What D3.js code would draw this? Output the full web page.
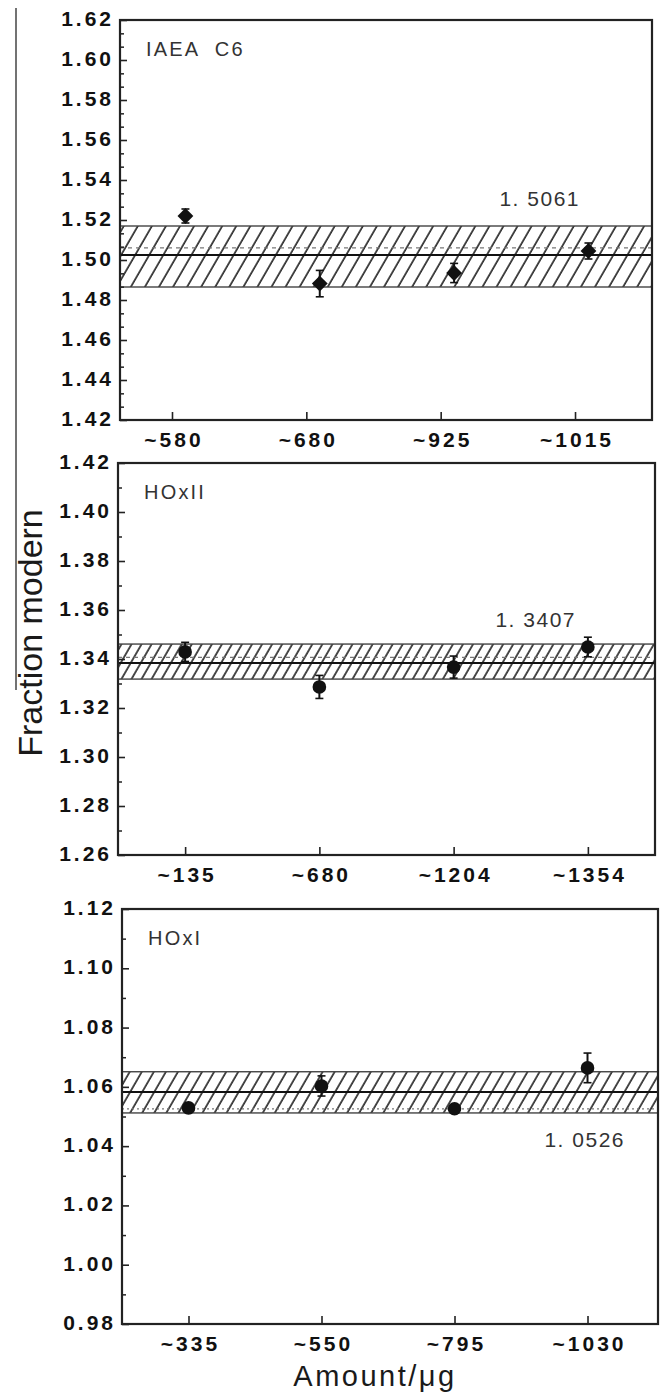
<!DOCTYPE html>
<html>
<head>
<meta charset="utf-8">
<script src="https://cdn.jsdelivr.net/npm/d3@7"></script>
<style>
  body { margin: 0; background: #fff; }
  text { font-family: "Liberation Sans", Arial, sans-serif; fill: #1a1a1a; }
  .tick text { font-weight: bold; font-size: 21px; letter-spacing: 3px; fill: #111; }
</style>
</head>
<body>
<div id="chart"></div>
<script>
// IAEA C6 panel
const c6Labels = ["~580", "~680", "~925", "~1015"];
const c6Values = [1.522, 1.4882, 1.4935, 1.5045];
const c6Errors = [0.0035, 0.0066, 0.0048, 0.004];
const c6Band = [1.4865, 1.517];
const c6Mean = 1.5025;
const c6Ref = 1.5061;
const c6Ticks = [1.42, 1.44, 1.46, 1.48, 1.50, 1.52, 1.54, 1.56, 1.58, 1.60, 1.62];

// HOxII panel
const hox2Labels = ["~135", "~680", "~1204", "~1354"];
const hox2Values = [1.3429, 1.3286, 1.3367, 1.3449];
const hox2Errors = [0.0039, 0.0047, 0.0045, 0.004];
const hox2Band = [1.3318, 1.3461];
const hox2Mean = 1.3384;
const hox2Ref = 1.3407;
const hox2Ticks = [1.26, 1.28, 1.30, 1.32, 1.34, 1.36, 1.38, 1.40, 1.42];

// HOxI panel
const hox1Labels = ["~335", "~550", "~795", "~1030"];
const hox1Values = [1.0529, 1.0603, 1.0526, 1.0664];
const hox1Errors = [0.0015, 0.0034, 0.0008, 0.005];
const hox1Band = [1.0512, 1.0651];
const hox1Mean = 1.0583;
const hox1Ref = 1.0526;
const hox1Ticks = [0.98, 1.00, 1.02, 1.04, 1.06, 1.08, 1.10, 1.12];

const width = 660, height = 1393;

let svg = d3.select("#chart").append("svg")
    .attr("width", width)
    .attr("height", height);

let defs = svg.append("defs");

// the panels, built from the arrays above
let panels = [
  {id: "c6", name: "IAEA  C6", labels: c6Labels, values: c6Values, errors: c6Errors,
   band: c6Band, mean: c6Mean, ref: c6Ref, ticks: c6Ticks, minorPer: 3,
   left: 120, right: 652, top: 20, bottom: 420, xDomain: [0.613, 4.573], shift: 0.1,
   marker: "diamond", hatch: 14, refDash: "4,4", refLabel: "1. 5061", labelX: 580, labelDy: -42},
  {id: "hox2", name: "HOxII", labels: hox2Labels, values: hox2Values, errors: hox2Errors,
   band: hox2Band, mean: hox2Mean, ref: hox2Ref, ticks: hox2Ticks, minorPer: 2,
   left: 118, right: 655, top: 463, bottom: 855, xDomain: [0.5, 4.5], shift: 0,
   marker: "circle", hatch: 10, refDash: "4,4", refLabel: "1. 3407", labelX: 576, labelDy: -30},
  {id: "hox1", name: "HOxI", labels: hox1Labels, values: hox1Values, errors: hox1Errors,
   band: hox1Band, mean: hox1Mean, ref: hox1Ref, ticks: hox1Ticks, minorPer: 2,
   left: 122, right: 658, top: 909, bottom: 1324, xDomain: [0.5, 4.53], shift: 0,
   marker: "circle", hatch: 12, refDash: "2,3", refLabel: "1. 0526", labelX: 625, labelDy: 38}
];

panels.forEach(drawPanel);

// stray scan line on the left edge
svg.append("line")
    .attr("x1", 16).attr("x2", 16)
    .attr("y1", 8).attr("y2", 690)
    .style("stroke", "#444")
    .style("stroke-width", 1.5);

// axis titles
svg.append("text")
    .attr("transform", "translate(42,633) rotate(-90)")
    .style("text-anchor", "middle")
    .style("font-size", "34px")
    .text("Fraction modern");

svg.append("text")
    .attr("x", 375)
    .attr("y", 1386)
    .style("text-anchor", "middle")
    .style("font-size", "29px")
    .style("letter-spacing", "2.5px")
    .text("Amount/μg");

function drawPanel(p) {
    // draws one of the three stacked panels

    let x = d3.scaleLinear().domain(p.xDomain).range([p.left, p.right]);
    let y = d3.scaleLinear().domain([p.ticks[0], p.ticks[p.ticks.length - 1]]).range([p.bottom, p.top]);

    // hatch pattern for the uncertainty band
    defs.append("pattern")
        .attr("id", "hatch-" + p.id)
        .attr("patternUnits", "userSpaceOnUse")
        .attr("width", p.hatch * 0.87)
        .attr("height", p.hatch * 0.87)
        .attr("patternTransform", "rotate(30)")
      .append("line")
        .attr("x1", 1).attr("x2", 1)
        .attr("y1", 0).attr("y2", p.hatch * 0.87)
        .style("stroke", "#000")
        .style("stroke-width", 1.4);

    let g = svg.append("g").attr("class", "panel");

    g.append("rect")
        .attr("x", p.left)
        .attr("width", p.right - p.left)
        .attr("y", y(p.band[1]))
        .attr("height", y(p.band[0]) - y(p.band[1]))
        .style("fill", "url(#hatch-" + p.id + ")")
        .style("stroke", "#444")
        .style("stroke-width", 1.4);

    // reference value (dashed) and mean (solid)
    g.append("line")
        .attr("x1", p.left).attr("x2", p.right)
        .attr("y1", y(p.ref)).attr("y2", y(p.ref))
        .style("stroke", "#777")
        .style("stroke-width", 1.2)
        .style("stroke-dasharray", p.refDash);

    g.append("line")
        .attr("x1", p.left).attr("x2", p.right)
        .attr("y1", y(p.mean)).attr("y2", y(p.mean))
        .style("stroke", "#111")
        .style("stroke-width", 2);

    g.append("text")
        .attr("x", p.labelX)
        .attr("y", y(p.ref) + p.labelDy)
        .style("text-anchor", "end")
        .style("font-size", "21px")
        .style("letter-spacing", "1.5px")
        .style("fill", "#333")
        .text(p.refLabel);

    g.append("text")
        .attr("x", p.left + 26)
        .attr("y", p.top + 36)
        .style("font-size", "20px")
        .style("letter-spacing", "2.2px")
        .style("white-space", "pre")
        .style("fill", "#333")
        .text(p.name);

    // minor ticks on the y axis
    let step = p.ticks[1] - p.ticks[0];
    let minor = [];
    for (let i = 0; i < p.ticks.length - 1; i++) {
        for (let k = 1; k < p.minorPer; k++) {
            minor.push(p.ticks[i] + step * k / p.minorPer);
        }
    }
    g.append("g")
        .attr("transform", "translate(" + p.left + ",0)")
        .call(d3.axisLeft(y).tickValues(minor).tickSize(-4).tickFormat(""))
        .call(s => s.select(".domain").remove())
        .selectAll("line").style("stroke", "#222").style("stroke-width", 1.5);

    let yAxis = g.append("g")
        .attr("transform", "translate(" + p.left + ",0)")
        .call(d3.axisLeft(y).tickValues(p.ticks).tickSize(-7).tickPadding(6)
            .tickFormat(d3.format(".2f")));
    yAxis.select(".domain").remove();
    yAxis.selectAll("line").style("stroke", "#222").style("stroke-width", 1.6);
    yAxis.selectAll("text").attr("dy", "0.26em");

    let xAxis = g.append("g")
        .attr("transform", "translate(0," + p.bottom + ")")
        .call(d3.axisBottom(x).tickValues([1, 2, 3, 4]).tickSize(-8).tickPadding(12)
            .tickFormat(function(d){ return p.labels[d - 1]; }));
    xAxis.select(".domain").remove();
    xAxis.selectAll("line").style("stroke", "#222").style("stroke-width", 1.6);
    xAxis.selectAll("text").attr("dx", "1.5px");

    // frame
    g.append("rect")
        .attr("x", p.left).attr("y", p.top)
        .attr("width", p.right - p.left)
        .attr("height", p.bottom - p.top)
        .style("fill", "none")
        .style("stroke", "#222")
        .style("stroke-width", 2.2);

    // data points with error bars
    let pts = p.values.map(function(v, i){
        return {pos: i + 1 + p.shift, value: v, err: p.errors[i]};
    });

    let marks = g.selectAll(".pt")
        .data(pts)
        .enter().append("g")
        .attr("class", "pt");

    marks.append("line")
        .attr("x1", d => x(d.pos)).attr("x2", d => x(d.pos))
        .attr("y1", d => y(d.value - d.err)).attr("y2", d => y(d.value + d.err))
        .style("stroke", "#111").style("stroke-width", 2);

    [-1, 1].forEach(function(sgn){
        marks.append("line")
            .attr("x1", d => x(d.pos) - 4).attr("x2", d => x(d.pos) + 4)
            .attr("y1", d => y(d.value + sgn * d.err)).attr("y2", d => y(d.value + sgn * d.err))
            .style("stroke", "#111").style("stroke-width", 1.6);
    });

    if (p.marker == "diamond") {
        marks.append("path")
            .attr("d", d3.symbol().type(d3.symbolSquare).size(125))
            .attr("transform", d => "translate(" + x(d.pos) + "," + y(d.value) + ") rotate(45)")
            .style("fill", "#111");
    } else {
        marks.append("circle")
            .attr("cx", d => x(d.pos))
            .attr("cy", d => y(d.value))
            .attr("r", 6.8)
            .style("fill", "#111");
    }
}
</script>
</body>
</html>
